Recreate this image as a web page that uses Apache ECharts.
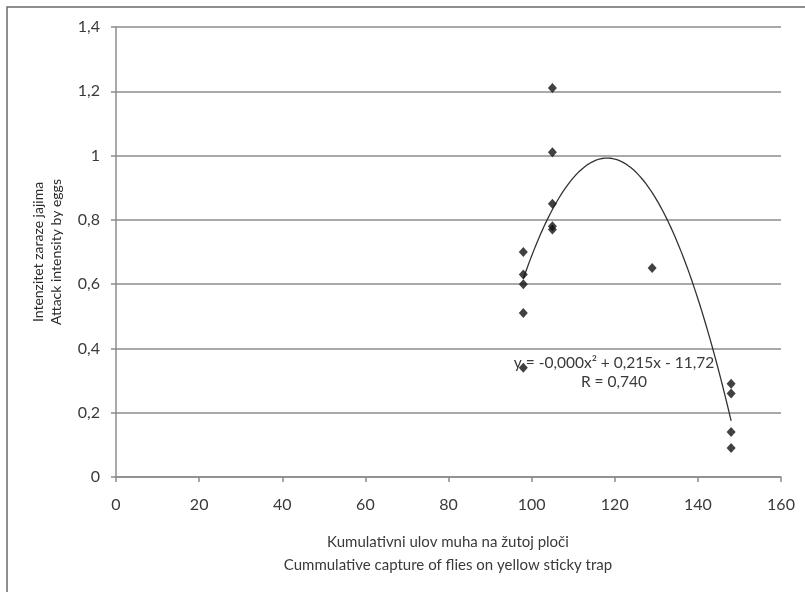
<!DOCTYPE html>
<html>
<head>
<meta charset="utf-8">
<script src="https://cdn.jsdelivr.net/npm/echarts@6/dist/echarts.min.js"></script>
<style>
  html, body { margin: 0; padding: 0; background: #fff; }
  #chart { width: 805px; height: 592px; }
</style>
</head>
<body>
<div id="chart"></div>
<script>
// cumulative capture (x) and attack intensity (y)
const captureVals = [98, 98, 98, 98, 98, 105, 105, 105, 105, 105, 129, 148, 148, 148, 148]
const attackVals = [0.70, 0.63, 0.60, 0.51, 0.34, 1.21, 1.01, 0.85, 0.78, 0.77, 0.65, 0.29, 0.26, 0.14, 0.09]
const xTicks = [0, 20, 40, 60, 80, 100, 120, 140, 160]
const yTicks = [0, 0.2, 0.4, 0.6, 0.8, 1, 1.2, 1.4]
const xTitle = ['Kumulativni ulov muha na žutoj ploči', 'Cummulative capture of flies on yellow sticky trap']
const yTitle = ['Intenzitet zaraze jajima', 'Attack intensity by eggs']
const trendText = ['y = -0,000x² + 0,215x - 11,72', 'R = 0,740']

const FONT = 'Lato, "Open Sans", sans-serif'
const TXT = '#3a3a3a'

// least squares 2nd order polynomial, like the spreadsheet trendline
function polyFit2(xs, ys) {
    let s = [0, 0, 0, 0, 0], t = [0, 0, 0]
    xs.forEach((x, i) => {
        for (let k = 0; k < 5; k++) s[k] += Math.pow(x, k)
        for (let k = 0; k < 3; k++) t[k] += Math.pow(x, k) * ys[i]
    })
    let m = [
        [s[0], s[1], s[2], t[0]],
        [s[1], s[2], s[3], t[1]],
        [s[2], s[3], s[4], t[2]]
    ]
    for (let c = 0; c < 3; c++) {
        for (let r = c + 1; r < 3; r++) {
            let f = m[r][c] / m[c][c]
            for (let k = c; k < 4; k++) m[r][k] -= f * m[c][k]
        }
    }
    let coef = [0, 0, 0]
    for (let r = 2; r >= 0; r--) {
        let v = m[r][3]
        for (let k = r + 1; k < 3; k++) v -= m[r][k] * coef[k]
        coef[r] = v / m[r][r]
    }
    return coef
}

const coef = polyFit2(captureVals, attackVals)
const xMin = Math.min(...captureVals), xMax = Math.max(...captureVals)
let trendData = []
for (let i = 0; i <= 100; i++) {
    let x = xMin + (xMax - xMin) * i / 100
    trendData.push([x, coef[0] + coef[1] * x + coef[2] * x * x])
}

const chart = echarts.init(document.getElementById('chart'))
chart.setOption({
    animation: false,
    backgroundColor: '#fff',
    grid: { left: 116, top: 27, width: 665, height: 450 },
    xAxis: {
        type: 'value',
        min: xTicks[0],
        max: xTicks[xTicks.length - 1],
        interval: xTicks[1] - xTicks[0],
        axisLine: { show: true, lineStyle: { color: '#8c8c8c', width: 1.5 } },
        axisTick: { show: true, length: 5, lineStyle: { color: '#8c8c8c', width: 1.5 } },
        axisLabel: { color: TXT, fontSize: 16, fontFamily: FONT, margin: 20 },
        splitLine: { show: false }
    },
    yAxis: {
        type: 'value',
        min: yTicks[0],
        max: yTicks[yTicks.length - 1],
        interval: 0.2,
        axisLine: { show: true, lineStyle: { color: '#8c8c8c', width: 1.5 } },
        axisTick: { show: true, length: 5, lineStyle: { color: '#8c8c8c', width: 1.5 } },
        axisLabel: {
            color: TXT, fontSize: 16, fontFamily: FONT, margin: 16,
            formatter: v => String(Math.round(v * 10) / 10).replace('.', ',')
        },
        splitLine: { show: true, lineStyle: { color: '#8c8c8c', width: 1.5 } }
    },
    graphic: [
        {
            type: 'rect', silent: true,
            shape: { x: 7, y: 7, width: 830, height: 620 },
            style: { fill: 'none', stroke: '#6a6a6a', lineWidth: 1.5 }
        },
        {
            type: 'text', x: 448, y: 542,
            style: { text: xTitle[0], fill: TXT, font: '15px ' + FONT, textAlign: 'center', textVerticalAlign: 'middle' }
        },
        {
            type: 'text', x: 448, y: 565,
            style: { text: xTitle[1], fill: TXT, font: '15px ' + FONT, textAlign: 'center', textVerticalAlign: 'middle' }
        },
        {
            type: 'text', x: 38, y: 252, rotation: Math.PI / 2,
            style: { text: yTitle[0], fill: '#2a2a2a', font: '14px ' + FONT, textAlign: 'center', textVerticalAlign: 'middle' }
        },
        {
            type: 'text', x: 56, y: 252, rotation: Math.PI / 2,
            style: { text: yTitle[1], fill: '#2a2a2a', font: '14px ' + FONT, textAlign: 'center', textVerticalAlign: 'middle' }
        },
        {
            type: 'text', x: 614, y: 363, z: 10,
            style: { text: trendText[0], fill: TXT, font: '15.5px ' + FONT, textAlign: 'center', textVerticalAlign: 'middle' }
        },
        {
            type: 'text', x: 614, y: 382, z: 10,
            style: { text: trendText[1], fill: TXT, font: '15.5px ' + FONT, textAlign: 'center', textVerticalAlign: 'middle' }
        }
    ],
    series: [
        {
            type: 'line',
            data: trendData,
            showSymbol: false,
            smooth: false,
            lineStyle: { color: '#333', width: 1.3 },
            z: 2
        },
        {
            type: 'scatter',
            data: captureVals.map((x, i) => [x, attackVals[i]]),
            symbol: 'diamond',
            symbolSize: [9, 10],
            itemStyle: { color: '#111' },
            z: 3
        }
    ]
})
</script>
</body>
</html>
